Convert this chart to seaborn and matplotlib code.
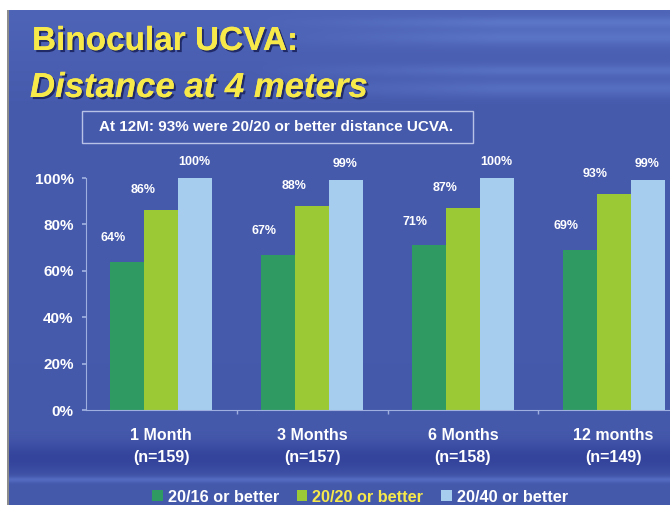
import numpy as np
import pandas as pd
import matplotlib
matplotlib.use("Agg")
import matplotlib.pyplot as plt
import matplotlib.patheffects as pe
import matplotlib.transforms as mtransforms
from matplotlib.patches import Rectangle
import seaborn as sns

# ---- data ----
periods = ["1 Month\n(n=159)", "3 Months\n(n=157)", "6 Months\n(n=158)", "12 months\n(n=149)"]
series_names = ["20/16 or better", "20/20 or better", "20/40 or better"]
v_2016 = [64, 67, 71, 69]
v_2020 = [86, 88, 87, 93]
v_2040 = [100, 99, 100, 99]
y_ticks = [0, 20, 40, 60, 80, 100]
colors = ["#2f9a62", "#9bc935", "#a6cdee"]

rows = []
for name, vals in zip(series_names, [v_2016, v_2020, v_2040]):
    for p, v in zip(periods, vals):
        rows.append({"period": p, "series": name, "value": v})
df = pd.DataFrame(rows)

sns.set_theme(style="white")
plt.rcParams["font.family"] = ["Liberation Sans", "DejaVu Sans"]

W, H = 670, 505
fig = plt.figure(figsize=(W / 100, H / 100), dpi=100)

# ---- background ----
bg_ax = fig.add_axes([0, 0, 1, 1], zorder=-10)
yy = np.arange(H)[:, None]
xx = np.arange(W)[None, :]
base = np.array([70, 90, 172], dtype=float)
img = np.ones((H, W, 3)) * base
top = np.clip((110 - yy) / 100.0, 0, 1)
img += top[..., None] * np.array([8, 10, 10])
xfade = np.clip((xx - 250) / 250.0, 0, 1)
for c, h in [(22, 6), (37, 8), (70, 6), (88, 8)]:
    band = np.exp(-((yy - c) / h) ** 2)
    img += (band * xfade)[..., None] * np.array([14, 18, 18])
dark = np.exp(-((yy - 458) / 16.0) ** 2)
img -= dark[..., None] * np.array([18, 22, 16])
light = np.exp(-((yy - 479) / 3.0) ** 2)
img += light[..., None] * np.array([16, 20, 22])
img = np.clip(img, 0, 255) / 255.0
img[:10, :, :] = 1.0
img[:, :8, :] = 1.0
img[10:, 7:9, :] = 0.55
bg_ax.imshow(img, aspect="auto", extent=[0, 1, 0, 1], interpolation="bilinear")
bg_ax.set_axis_off()

# ---- title ----
shadow = [pe.withSimplePatchShadow(offset=(1.5, -1.5), shadow_rgbFace="#1c2560", alpha=0.9), pe.Normal()]
fig.text(32 / W, 1 - 50 / H, "Binocular UCVA:", color="#f7e94a", fontsize=24,
         fontweight="bold", ha="left", va="baseline", path_effects=shadow)
fig.text(30 / W, 1 - 97 / H, "Distance at 4 meters", color="#f7e94a", fontsize=25,
         fontweight="bold", style="italic", ha="left", va="baseline", path_effects=shadow)

# subtitle box
fig.patches.append(Rectangle((82 / W, 1 - 143 / H), (473 - 82) / W, 32 / H,
                             transform=fig.transFigure, facecolor="none",
                             edgecolor="#b8c2e6", linewidth=1.0))
fig.text(276 / W, 1 - 127 / H, "At 12M: 93% were 20/20 or better distance UCVA.",
         color="white", fontsize=11, fontweight="bold", ha="center", va="center")

# ---- main chart ----
ax = fig.add_axes([86 / W, (H - 410) / H, 603 / W, 232 / H])
ax.set_facecolor("none")
sns.barplot(data=df, x="period", y="value", hue="series", hue_order=series_names,
            palette=colors, width=0.675, gap=0, saturation=1, ax=ax, legend=True,
            edgecolor="none", linewidth=0)
ax.set_xlim(-0.5, 3.5)
ax.set_ylim(0, 100)
ax.set_yticks(y_ticks)
ax.set_yticklabels([f"{t}%" for t in y_ticks], color="white", fontsize=11, fontweight="bold")
ax.set_xticks(range(len(periods)))
ax.set_xticklabels(periods, color="white", fontsize=11.5, fontweight="bold", linespacing=1.6)
shift = mtransforms.ScaledTranslation(-4 / 100, 0, fig.dpi_scale_trans)
for lab in ax.get_xticklabels():
    lab.set_transform(lab.get_transform() + shift)
ax.set_xticks([0.5, 1.5, 2.5], minor=True)
ax.set_xlabel("")
ax.set_ylabel("")
for s in ["top", "right"]:
    ax.spines[s].set_visible(False)
for s in ["left", "bottom"]:
    ax.spines[s].set_color("#9fb0e0")
    ax.spines[s].set_linewidth(0.8)
ax.tick_params(axis="y", which="major", length=3, color="#9fb0e0", direction="out", pad=6, left=True)
ax.tick_params(axis="x", which="major", length=0, pad=13)
ax.tick_params(axis="x", which="minor", length=3, color="#9fb0e0", direction="out", bottom=True)
ax.grid(False)

# value labels (offsets in points, relative to bar top centre)
label_offsets = [(-10, 17), (-13, 14.5), (-0.7, 11.5)]
for cont, vals, (dx, dy) in zip(ax.containers, [v_2016, v_2020, v_2040], label_offsets):
    for bar, v in zip(cont, vals):
        ax.annotate(f"{v}%", (bar.get_x() + bar.get_width() / 2, bar.get_height()),
                    xytext=(dx, dy), textcoords="offset points", ha="center", va="center",
                    color="white", fontsize=9, fontweight="bold", annotation_clip=False)

handles, labels = ax.get_legend_handles_labels()
ax.legend_.remove()
leg = fig.legend(handles, labels, loc="center", bbox_to_anchor=(360 / W, 1 - 497 / H),
                 ncol=3, frameon=False, handlelength=0.65, handleheight=0.65,
                 handletextpad=0.3, columnspacing=1.1, prop={"weight": "bold", "size": 11.7})
for t, c in zip(leg.get_texts(), ["white", "#f7e94a", "white"]):
    t.set_color(c)

fig.savefig("out.png", dpi=100)
